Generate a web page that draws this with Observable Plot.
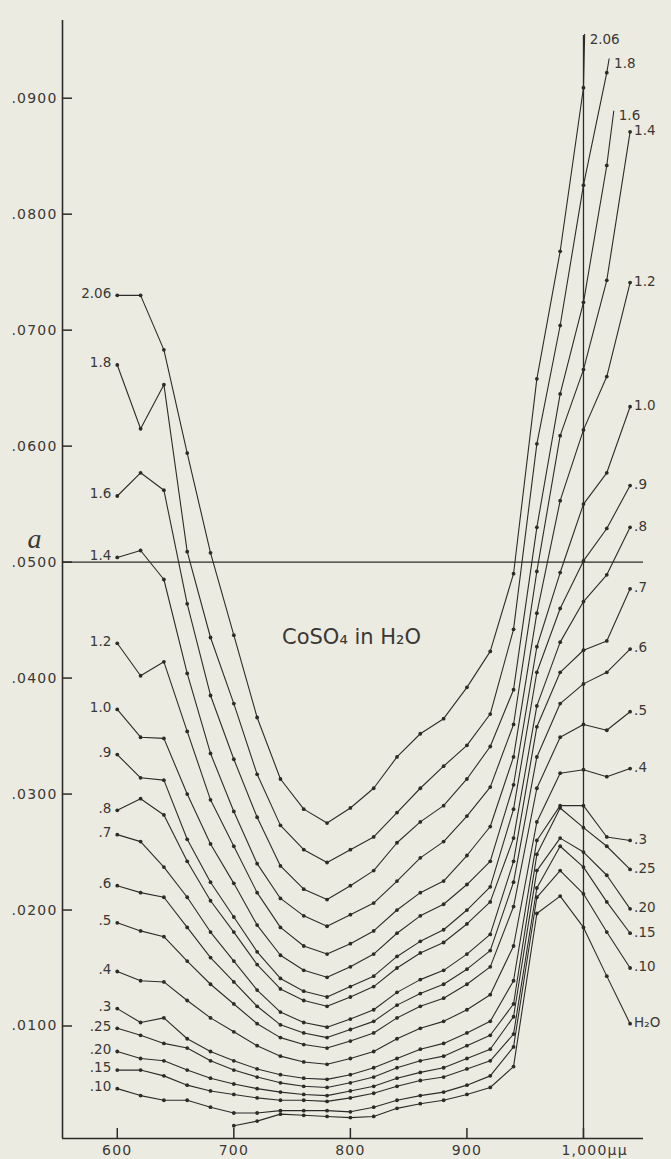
<!DOCTYPE html>
<html><head><meta charset="utf-8">
<script src="https://cdn.jsdelivr.net/npm/d3@7"></script>
<script src="https://cdn.jsdelivr.net/npm/@observablehq/plot@0.6"></script>
<style>
html,body{margin:0;padding:0;background:#ecebe2;}
#chart{width:671px;height:1159px;}
svg{display:block;}
</style></head><body><div id="chart"></div>
<script>
// wavelengths (mμ)
const wavelengths = [600,620,640,660,680,700,720,740,760,780,800,820,840,860,880,900,920,940,960,980,1000,1020,1040];

// absorption coefficient a for each concentration
const s206 = [.0730,.0730,.0683,.0594,.0508,.0437,.0366,.0313,.0287,.0275,.0288,.0305,.0332,.0352,.0365,.0392,.0423,.0490,.0658,.0768,.0909,null,null];
const s18  = [.0670,.0615,.0653,.0509,.0435,.0378,.0317,.0273,.0252,.0241,.0252,.0263,.0284,.0305,.0324,.0342,.0369,.0442,.0602,.0704,.0825,.0922,null];
const s16  = [.0557,.0577,.0562,.0464,.0385,.0330,.0280,.0238,.0218,.0209,.0221,.0234,.0258,.0276,.0290,.0313,.0341,.0390,.0530,.0645,.0724,.0842,null];
const s14  = [.0504,.0510,.0485,.0404,.0335,.0285,.0240,.0210,.0195,.0186,.0196,.0206,.0225,.0245,.0259,.0281,.0306,.0360,.0492,.0609,.0666,.0743,.0871];
const s12  = [.0430,.0402,.0414,.0354,.0295,.0255,.0215,.0185,.0169,.0162,.0171,.0182,.0200,.0215,.0225,.0247,.0272,.0332,.0456,.0553,.0614,.0660,.0741];
const s10  = [.0373,.0349,.0348,.0300,.0257,.0223,.0187,.0161,.0148,.0142,.0151,.0162,.0180,.0195,.0205,.0222,.0242,.0308,.0427,.0491,.0550,.0577,.0634];
const s09  = [.0334,.0314,.0312,.0261,.0224,.0194,.0164,.0141,.0130,.0125,.0134,.0143,.0160,.0173,.0183,.0200,.0220,.0287,.0405,.0460,.0501,.0529,.0566];
const s08  = [.0286,.0296,.0282,.0242,.0208,.0181,.0153,.0132,.0122,.0117,.0125,.0134,.0150,.0163,.0172,.0188,.0207,.0262,.0376,.0431,.0466,.0489,.0530];
const s07  = [.0265,.0259,.0237,.0211,.0181,.0156,.0131,.0112,.0103,.0099,.0106,.0114,.0129,.0140,.0148,.0162,.0179,.0242,.0358,.0405,.0424,.0432,.0477];
const s06  = [.0221,.0215,.0211,.0185,.0159,.0138,.0117,.0101,.0094,.0090,.0097,.0104,.0118,.0128,.0136,.0149,.0165,.0224,.0332,.0378,.0395,.0405,.0425];
const s05  = [.0189,.0182,.0177,.0156,.0136,.0119,.0102,.0090,.0084,.0081,.0087,.0094,.0107,.0117,.0124,.0136,.0151,.0203,.0305,.0349,.0360,.0355,.0371];
const s04  = [.0147,.0139,.0138,.0122,.0107,.0095,.0083,.0074,.0069,.0067,.0072,.0078,.0089,.0098,.0104,.0114,.0127,.0169,.0276,.0318,.0321,.0315,.0322];
const s03  = [.0115,.0103,.0107,.0089,.0078,.0070,.0063,.0058,.0055,.0054,.0058,.0064,.0072,.0080,.0085,.0094,.0104,.0139,.0260,.0290,.0290,.0263,.0260];
const s025 = [.0098,.0092,.0085,.0081,.0070,.0062,.0056,.0051,.0048,.0047,.0051,.0056,.0064,.0070,.0074,.0083,.0092,.0119,.0248,.0288,.0271,.0255,.0235];
const s020 = [.0078,.0072,.0070,.0062,.0055,.0050,.0046,.0043,.0041,.0040,.0044,.0048,.0055,.0060,.0064,.0072,.0080,.0108,.0234,.0262,.0250,.0230,.0201];
const s015 = [.0062,.0062,.0057,.0049,.0044,.0041,.0038,.0036,.0036,.0035,.0038,.0042,.0048,.0053,.0056,.0063,.0070,.0093,.0219,.0255,.0237,.0207,.0180];
const s010 = [.0046,.0040,.0036,.0036,.0030,.0025,.0025,.0027,.0027,.0027,.0026,.0030,.0036,.0040,.0043,.0049,.0057,.0082,.0211,.0234,.0214,.0181,.0150];
const sH2O = [null,null,null,null,null,.0014,.0018,.0024,.0023,.0022,.0021,.0022,.0029,.0033,.0036,.0041,.0047,.0065,.0197,.0212,.0185,.0143,.0102];

const seriesNames = ["2.06","1.8","1.6","1.4","1.2","1.0",".9",".8",".7",".6",".5",".4",".3",".25",".20",".15",".10","H₂O"];
const seriesValues = [s206,s18,s16,s14,s12,s10,s09,s08,s07,s06,s05,s04,s03,s025,s020,s015,s010,sH2O];

// short line ends (no dot) running off toward the labels
const stubSeries = ["2.06","1.8","1.6"];
const stubX = [1001, 1022, 1026];
const stubA = [.0955, .0934, .0889];

// axes
const yTicks = [.01,.02,.03,.04,.05,.06,.07,.08,.09];
const yTickLabels = [".0100",".0200",".0300",".0400",".0500",".0600",".0700",".0800",".0900"];
const xTicks = [600,700,800,900];
const xTickLabels = ["600","700","800","900"];
const xLastTick = [1000];
const xLastLabel = ["1,000μμ"];
const xDomain = [553, 1051.5];
const yDomain = [0.0003, 0.0967];
const refA = [0.05];
const refX = [1000];
const title = "CoSO₄ in H₂O";
const titleAt = {x: 801, a: 0.0435};
const yName = "a";

// ---- build tables ----
const rows = [];
seriesValues.forEach((arr, i) => arr.forEach((v, j) => {
  if (v != null) rows.push({series: seriesNames[i], x: wavelengths[j], a: v, dot: true});
}));
stubSeries.forEach((s, i) => rows.push({series: s, x: stubX[i], a: stubA[i], dot: false}));

const leftLabels = [];
const rightLabels = [];
const stubLabels = [];
seriesValues.forEach((arr, i) => {
  const name = seriesNames[i];
  if (arr[0] != null) leftLabels.push({label: name, x: wavelengths[0], a: arr[0]});
  const k = stubSeries.indexOf(name);
  if (k >= 0) stubLabels.push({label: name, x: stubX[k], a: stubA[k]});
  else {
    let j = arr.length - 1; while (arr[j] == null) j--;
    rightLabels.push({label: name, x: wavelengths[j], a: arr[j]});
  }
});

const ink = "#2d2b27";
const textInk = "#3a3834";
const W = 671, H = 1159, mL = 62, mR = 28, mT = 20, mB = 21;
const font = "'DejaVu Sans', sans-serif";

const chart = Plot.plot({
  width: W, height: H,
  marginLeft: mL, marginRight: mR, marginTop: mT, marginBottom: mB,
  x: {domain: xDomain, axis: null},
  y: {domain: yDomain, axis: null},
  style: {background: "#ecebe2", color: ink, fontFamily: font},
  marks: [
    Plot.ruleX([xDomain[0]], {stroke: ink, strokeWidth: 1.6}),
    Plot.ruleY([yDomain[0]], {stroke: ink, strokeWidth: 1.6}),
    Plot.tickY(yTicks, {y: d => d, stroke: ink, strokeWidth: 1.5, insetRight: W - mL - mR - 10}),
    Plot.tickX(xTicks.concat(xLastTick), {x: d => d, stroke: ink, strokeWidth: 1.5, insetTop: H - mT - mB - 10}),
    Plot.ruleY(refA, {stroke: ink, strokeWidth: 1.3}),
    Plot.ruleX(refX, {stroke: ink, strokeWidth: 1.3, insetTop: 15}),
    Plot.line(rows, {x: "x", y: "a", z: "series", stroke: ink, strokeWidth: 1.1, curve: "linear"}),
    Plot.dot(rows.filter(d => d.dot), {x: "x", y: "a", r: 1.9, fill: ink, stroke: "none"}),
    Plot.text(leftLabels, {x: "x", y: "a", text: "label", textAnchor: "end", dx: -6, dy: -2, fontSize: 13.5, fill: textInk}),
    Plot.text(rightLabels, {x: "x", y: "a", text: "label", textAnchor: "start", dx: 4, dy: -1, fontSize: 13.5, fill: textInk}),
    Plot.text(stubLabels, {x: "x", y: "a", text: "label", textAnchor: "start", dx: 5, dy: 5, fontSize: 13.5, fill: textInk}),
    Plot.text(yTicks, {x: xDomain[0], y: d => d, text: (d, i) => yTickLabels[i], textAnchor: "end", dx: -5, fontSize: 14, fill: textInk}),
    Plot.text(xTicks, {x: d => d, y: yDomain[0], text: (d, i) => xTickLabels[i], textAnchor: "middle", dy: 12, fontSize: 14, fill: textInk}),
    Plot.text(xLastTick, {x: d => d, y: yDomain[0], text: (d, i) => xLastLabel[i], textAnchor: "start", dx: -22, dy: 12, fontSize: 14, fill: textInk}),
    Plot.text([titleAt], {x: "x", y: "a", text: () => title, fontSize: 21, fill: textInk}),
    Plot.text([yName], {x: xDomain[0], y: 0.052, text: d => d, dx: -28, fontSize: 28, fontStyle: "italic", fontFamily: "'Liberation Serif', serif", fill: textInk})
  ]
});
// widen the tick labels' letter spacing like the original lettering
const tickTexts = new Set(yTickLabels.concat(xTickLabels, xLastLabel));
d3.select(chart).selectAll("text")
  .filter(function () { return tickTexts.has(this.textContent); })
  .attr("letter-spacing", "1.2px");
document.getElementById("chart").appendChild(chart);
</script>
</body></html>
